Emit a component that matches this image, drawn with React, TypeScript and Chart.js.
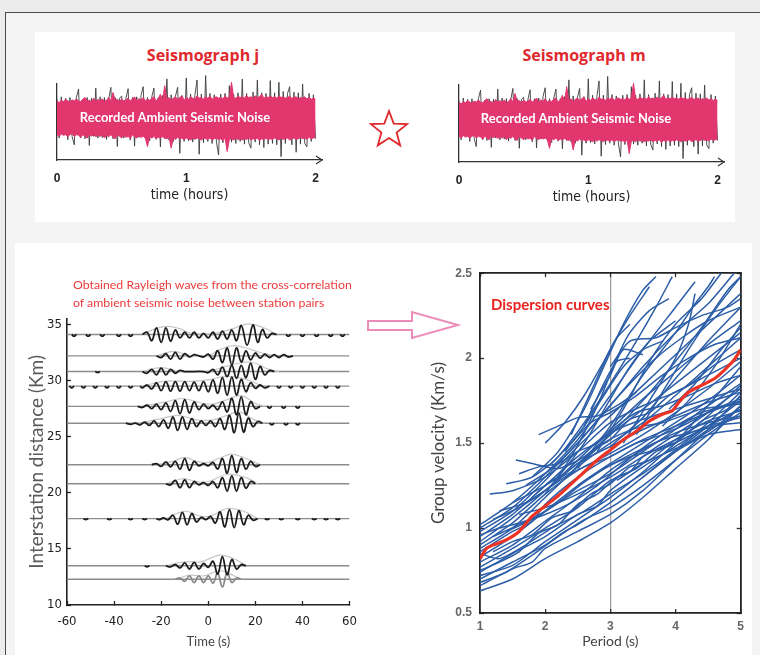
import React, { useEffect, useRef } from 'react';
import { Chart, registerables } from 'chart.js';

Chart.register(...registerables);

// ---------------- Seismograph (top panels) ----------------
const seismoTickValues = [0, 1, 2];
const seismoTickLabels = ['0', '1', '2'];
const noiseDurationHours = 2;

const noiseBlack = [
  0.55, -0.6, 0.62, -0.5, 0.58, -0.65, 0.6, -0.55, -0.8, 0.6,
  0.85, -0.6, 0.55, -0.62, 0.6, -0.82, 0.58, -0.55, 0.88, -0.6,
  0.62, -0.58, 0.6, -0.64, 0.56, 0.9, -0.62, 0.6, -0.85, 0.58,
  0.64, -0.6, 0.58, 0.86, -0.66, 0.6, -0.84, 0.62, -0.58, 0.66,
  0.92, -0.6, 0.6, -0.68, 0.62, 0.88, -0.64, 0.6, -0.86, 0.66,
  -0.62, 1.15, -0.66, 0.68, -0.7, 0.64, 0.9, -1.05, 0.66, -0.7,
  1.18, -0.68, 0.7, -0.72, 0.66, 1.12, -1.08, 0.7, -0.74, 1.25,
  -0.7, 0.72, -0.76, 0.68, -0.72, -1.1, 0.7, -0.74, 0.72, -0.78,
  0.95, -0.72, 0.7, -0.76, 0.74, -0.7, 1.15, -0.78, 0.72, -0.74,
  -0.9, 0.76, -0.72, 1.12, -0.8, 0.74, -0.88, 0.72, -0.78, 1.1,
  -0.76, 0.74, -0.8, 1.05, -1.15, 0.78, -0.76, 0.72, 0.92, -0.8,
  0.76, -1.02, 0.74, -0.78, 1.0, -0.76, -0.86, 0.72, -0.7, 0.68,
  -0.62,
];

const noisePinkUpper = [
  0.5, 0.45, 0.52, 0.48, 0.55, 0.5, 0.47, 0.53, 0.5, 0.56,
  0.5, 0.48, 0.55, 0.6, 0.5, 0.52, 0.47, 0.58, 0.5, 0.54,
  0.5, 0.56, 0.48, 0.52, 0.6, 0.5, 0.75, 0.52, 0.55, 0.48,
  0.56, 0.5, 0.53, 0.58, 0.5, 0.55, 0.62, 0.5, 0.57, 0.52,
  0.6, 0.5, 0.55, 0.52, 0.58, 0.62, 0.5, 0.56, 0.7, 0.52,
  0.95, 0.55, 0.6, 0.52, 0.58, 0.62, 0.55, 0.6, 0.65, 0.52,
  0.6, 0.55, 0.62, 0.58, 0.55, 0.65, 0.58, 0.6, 0.55, 0.62,
  0.58, 0.64, 0.55, 0.6, 0.62, 0.58, 0.6, 0.56, 0.65, 0.58,
  0.62, 1.05, 0.6, 0.58, 0.64, 0.6, 0.62, 0.58, 0.66, 0.6,
  0.62, 0.58, 0.65, 0.6, 0.62, 0.7, 0.58, 0.62, 0.6, 0.64,
  0.6, 0.62, 0.58, 0.65, 0.6, 0.62, 0.58, 0.6, 0.64, 0.58,
  0.6, 0.62, 0.56, 0.6, 0.58, 0.62, 0.56, 0.6, 0.55, 0.58,
  0.55,
];

const noisePinkLower = [
  -0.5, -0.55, -0.48, -0.52, -0.5, -0.56, -0.5, -0.47, -0.55, -0.5,
  -0.52, -0.58, -0.5, -0.55, -0.6, -0.5, -0.54, -0.5, -0.56, -0.52,
  -0.55, -0.5, -0.6, -0.52, -0.56, -0.5, -0.58, -0.62, -0.5, -0.55,
  -0.6, -0.52, -0.58, -0.55, -0.62, -0.5, -0.56, -0.6, -0.54, -0.58,
  -0.55, -0.6, -0.85, -0.56, -0.6, -0.55, -0.62, -0.58, -0.6, -0.56,
  -0.6, -0.62, -0.58, -0.9, -0.6, -0.64, -0.58, -0.62, -0.6, -0.65,
  -0.6, -0.62, -0.66, -0.6, -0.64, -0.6, -0.62, -0.66, -0.6, -0.62,
  -0.64, -0.6, -0.66, -0.62, -0.6, -0.65, -0.62, -0.68, -0.6, -1.0,
  -0.64, -0.62, -0.66, -0.6, -0.64, -0.62, -0.66, -0.62, -0.64, -0.6,
  -0.66, -0.62, -0.64, -0.6, -0.68, -0.62, -0.65, -0.6, -0.66, -0.62,
  -0.64, -0.6, -0.62, -0.66, -0.6, -0.64, -0.62, -0.6, -0.66, -0.62,
  -0.6, -0.64, -0.62, -0.58, -0.62, -0.6, -0.64, -0.58, -0.62, -0.6,
  -0.58,
];

// ---------------- Cross-correlation record section ----------------
const waveXTicks = [-60, -40, -20, 0, 20, 40, 60];
const waveYTicks = [10, 15, 20, 25, 30, 35];
const traceDistances = [34.1, 32.2, 30.8, 29.5, 27.7, 26.2, 22.5, 20.8, 17.7, 13.5, 12.3];

type P = [number, number | null];

const trace1: P[] = [
  [-58, 0], [-57, -0.15], [-56, 0], [-55.5, null], [-52, 0], [-51, -0.15], [-50, 0], [-49.5, null],
  [-46, 0], [-45, -0.15], [-44, 0], [-43.5, null], [-39, 0], [-38, -0.15], [-37, 0], [-36.5, null],
  [-34, 0], [-33, -0.15], [-32, 0], [-31.5, null],
  [-28, 0], [-26, 0.2], [-24, -0.55], [-22, 0.6], [-20, -0.7], [-18, 0.6], [-16, -0.6], [-14, 0.4],
  [-12, -0.3], [-10, 0.2], [-8, -0.3], [-6, 0.2], [-4, -0.3], [-2, 0.1], [0, -0.3], [2, 0.2], [4, -0.4],
  [6, 0.3], [8, -0.4], [10, 0.4], [12, -0.55], [14, 0.8], [16.5, -0.95], [19, 0.85], [21, -0.7],
  [23, 0.45], [25, -0.3], [27, 0.1], [29, 0], [29.5, null],
  [33, 0], [34, -0.15], [35, 0], [35.5, null], [39, 0], [40, -0.15], [41, 0], [41.5, null],
  [45, 0], [46, -0.15], [47, 0], [47.5, null], [51, 0], [52, -0.15], [53, 0], [53.5, null],
  [56, 0], [57, -0.15], [58, 0],
];
const trace2: P[] = [
  [-22, 0], [-20, -0.15], [-18, 0.2], [-16, -0.3], [-14, 0.3], [-12, -0.3], [-10, 0.2], [-8, -0.1],
  [-6, 0.1], [-4, 0], [-2, -0.1], [0, 0.15], [2, -0.3], [4, 0.45], [6, -0.6], [8, 0.7], [10, -0.8],
  [12, 0.7], [14, -0.55], [16, 0.45], [18, -0.35], [20, 0.25], [22, -0.2], [24, 0.15], [26, -0.15],
  [28, 0.1], [30, -0.15], [32, 0.1], [34, -0.1], [36, 0],
];
const trace3: P[] = [
  [-48, 0], [-47, -0.1], [-46, 0], [-45.5, null],
  [-28, 0], [-26, -0.15], [-24, 0.2], [-22, -0.3], [-20, 0.3], [-18, -0.3], [-16, 0.2], [-14, -0.15],
  [-12, 0.1], [-10, 0], [-2, 0], [0, -0.1], [2, 0.2], [4, -0.3], [6, 0.4], [8, -0.45], [10, 0.55],
  [12, -0.6], [14, 0.55], [16, -0.55], [18, 0.75], [20, -0.7], [22, 0.45], [24, -0.3], [26, 0.1], [28, 0],
];
const trace4: P[] = [
  [-59, 0], [-58, -0.15], [-57, 0], [-56.5, null], [-54, 0], [-53, -0.15], [-52, 0], [-51.5, null],
  [-49, 0], [-48, -0.15], [-47, 0], [-46.5, null], [-44, 0], [-43, -0.15], [-42, 0], [-41.5, null],
  [-39, 0], [-38, -0.15], [-37, 0], [-36.5, null], [-34, 0], [-33, -0.15], [-32, 0], [-31.5, null],
  [-29, 0], [-28, -0.15], [-26, 0.1], [-24, -0.25], [-22, 0.3], [-20, -0.4], [-18, 0.4], [-16, -0.45],
  [-14, 0.4], [-12, -0.45], [-10, 0.4], [-8, -0.4], [-6, 0.35], [-4, -0.4], [-2, 0.4], [0, -0.5],
  [2, 0.55], [4, -0.65], [6, 0.75], [8, -0.8], [10, 0.8], [12, -0.8], [14, 0.6], [16, -0.5], [18, 0.3],
  [20, -0.2], [22, 0.1], [24, -0.15], [26, 0], [26.5, null],
  [29, 0], [30, -0.15], [31, 0], [31.5, null], [34, 0], [35, -0.15], [36, 0], [36.5, null],
  [39, 0], [40, -0.15], [41, 0], [41.5, null], [44, 0], [45, -0.15], [46, 0], [46.5, null],
  [49, 0], [50, -0.15], [51, 0], [51.5, null], [54, 0], [55, -0.15], [56, 0],
];
const trace5: P[] = [
  [-30, 0], [-28, -0.1], [-26, 0.1], [-24, -0.2], [-22, 0.2], [-20, -0.3], [-18, 0.3], [-16, -0.45],
  [-14, 0.5], [-12, -0.65], [-10, 0.6], [-8, -0.6], [-6, 0.4], [-4, -0.3], [-2, 0.2], [0, -0.2],
  [2, 0.1], [4, -0.3], [6, 0.4], [8, -0.5], [10, 0.7], [12, -0.75], [14, 0.85], [16, -0.75],
  [18, 0.4], [20, -0.2], [22, 0], [22.5, null],
  [25, 0], [26, -0.15], [27, 0], [27.5, null], [31, 0], [32, -0.15], [33, 0], [33.5, null],
  [37, 0], [38, -0.15], [39, 0],
];
const trace6: P[] = [
  [-35, 0], [-33, -0.1], [-31, 0], [-29, -0.15], [-27, 0.1], [-25, -0.2], [-23, 0.2], [-21, -0.3],
  [-19, 0.3], [-17, -0.45], [-15, 0.55], [-13, -0.65], [-11, 0.55], [-9, -0.55], [-7, 0.4], [-5, -0.3],
  [-3, 0.2], [-1, -0.2], [1, 0.2], [3, -0.3], [5, 0.4], [7, -0.55], [9, 0.7], [11, -0.85], [13, 0.9],
  [15, -0.8], [17, 0.45], [19, -0.3], [21, 0.15], [23, 0], [23.5, null],
  [26, 0], [27, -0.15], [28, 0], [28.5, null], [32, 0], [33, -0.15], [34, 0], [34.5, null],
  [37, 0], [38, -0.15], [39, 0],
];
const trace7: P[] = [
  [-24, 0], [-22, 0.1], [-20, -0.15], [-18, 0.25], [-16, -0.2], [-14, 0.3], [-12, -0.4], [-10, 0.55],
  [-8, -0.5], [-6, 0.3], [-4, -0.1], [-2, 0.1], [0, -0.1], [2, 0.2], [4, -0.4], [6, 0.55], [8, -0.75],
  [10, 0.8], [12, -0.7], [14, 0.55], [16, -0.4], [18, 0.3], [20, -0.15], [22, 0],
];
const trace8: P[] = [
  [-18, 0], [-16, -0.1], [-14, 0.3], [-12, -0.35], [-10, 0.35], [-8, -0.35], [-6, 0.2], [-4, -0.1],
  [-2, 0.1], [0, -0.15], [2, 0.2], [4, -0.35], [6, 0.55], [8, -0.65], [10, 0.7], [12, -0.65],
  [14, 0.55], [16, -0.4], [18, 0.2], [20, 0],
];
const trace9: P[] = [
  [-53, 0], [-52, -0.1], [-51, 0], [-50.5, null], [-43, 0], [-42, -0.1], [-41, 0], [-40.5, null],
  [-34, 0], [-33, -0.1], [-32, 0], [-31.5, null], [-28, 0], [-27, -0.1], [-26, 0], [-25.5, null],
  [-22, 0], [-21, -0.1], [-19, 0.05], [-17, -0.1], [-15, 0.3], [-13, -0.5], [-11, 0.55], [-9, -0.55],
  [-7, 0.45], [-5, -0.3], [-3, 0.1], [-1, -0.1], [1, 0.2], [3, -0.4], [5, 0.6], [7, -0.75], [9, 0.8],
  [11, -0.8], [13, 0.7], [15, -0.55], [17, 0.3], [19, -0.15], [21, 0], [21.5, null],
  [24, 0], [25, -0.1], [26, 0], [26.5, null], [30, 0], [31, -0.1], [32, 0], [32.5, null],
  [37, 0], [38, -0.1], [39, 0], [39.5, null], [44, 0], [45, -0.1], [46, 0], [46.5, null],
  [49, 0], [50, -0.1], [51, 0], [51.5, null], [54, 0], [55, -0.1], [56, 0],
];
const trace10: P[] = [
  [-27, 0], [-26, -0.1], [-25, 0], [-24.5, null],
  [-18, 0], [-16, -0.1], [-14, 0.1], [-12, -0.2], [-10, 0.25], [-8, -0.3], [-6, 0.3], [-4, -0.3],
  [-2, 0.2], [0, -0.15], [2, 0.4], [4, -0.75], [6, 0.8], [8, -0.8], [10, 0.55], [12, -0.3], [14, 0.1], [16, 0],
];
const trace11: P[] = [
  [-14, 0], [-12, 0.1], [-10, -0.2], [-8, 0.3], [-6, -0.3], [-4, 0.3], [-2, -0.3], [0, 0.3],
  [2, -0.35], [4, 0.55], [6, -0.7], [8, 0.6], [10, -0.3], [12, 0.1], [14, 0],
];
const traceWiggles = [trace1, trace2, trace3, trace4, trace5, trace6, trace7, trace8, trace9, trace10, trace11];

const env1: P[] = [[-28, 0], [-22, 0.55], [-17, 0.72], [-12, 0.5], [-7, 0.1], [3, 0.1], [10, 0.5], [17, 0.95], [23, 0.65], [29, 0]];
const env2: P[] = [[-22, 0], [-15, 0.4], [-8, 0.05], [0, 0.05], [5, 0.55], [10, 0.9], [16, 0.7], [22, 0.3], [28, 0]];
const env3: P[] = [[-28, 0], [-20, 0.35], [-12, 0], [0, 0.05], [10, 0.6], [18, 0.85], [25, 0.25], [30, 0]];
const env4: P[] = [[-28, 0], [-18, 0.45], [-8, 0.42], [0, 0.55], [8, 0.9], [16, 0.6], [23, 0]];
const env5: P[] = [[-28, 0], [-18, 0.4], [-11, 0.7], [-3, 0.3], [2, 0.2], [8, 0.6], [14, 0.95], [20, 0.25], [24, 0]];
const env6: P[] = [[-30, 0], [-20, 0.4], [-13, 0.7], [-5, 0.3], [2, 0.3], [8, 0.7], [13, 1.0], [20, 0.25], [24, 0]];
const env7: P[] = [[-22, 0], [-15, 0.3], [-10, 0.65], [-5, 0.3], [0, 0.2], [5, 0.6], [10, 0.95], [16, 0.55], [22, 0]];
const env8: P[] = [[-18, 0], [-11, 0.45], [-5, 0.2], [0, 0.2], [8, 0.85], [16, 0.55], [21, 0]];
const env9: P[] = [[-18, 0], [-10, 0.65], [-3, 0.2], [2, 0.3], [8, 0.9], [15, 0.65], [21, 0]];
const env10: P[] = [[-18, 0], [-10, 0.35], [-3, 0.35], [5, 0.95], [12, 0.5], [16, 0]];
const env11: P[] = [[-14, 0], [-8, 0.35], [-2, 0.3], [5, 0.75], [11, 0.3], [14, 0]];
const traceEnvelopes = [env1, env2, env3, env4, env5, env6, env7, env8, env9, env10, env11];

// ---------------- Dispersion curves ----------------
const dispXTicks = [1, 2, 3, 4, 5];
const dispYTicks = [0.5, 1, 1.5, 2, 2.5];
const dispYLabels = ['0.5', '1', '1.5', '2', '2.5'];

type Q = [number, number];
const c1: Q[] = [[1, 0.63], [1.5, 0.7], [2, 0.82], [2.5, 0.92], [3, 1.03], [3.5, 1.18], [4, 1.35], [4.5, 1.52], [5, 1.72]];
const c2: Q[] = [[1, 0.66], [1.5, 0.76], [1.8, 0.8], [2, 0.88], [2.5, 0.98], [3, 1.08], [3.5, 1.22], [4, 1.4], [4.5, 1.58], [5, 1.78]];
const c3: Q[] = [[1, 0.7], [1.5, 0.8], [2, 0.9], [2.3, 0.98], [2.5, 1.02], [3, 1.15], [3.5, 1.3], [4, 1.45], [4.5, 1.6], [5, 1.75]];
const c4: Q[] = [[1, 0.74], [1.5, 0.85], [2, 0.95], [2.5, 1.08], [2.8, 1.13], [3, 1.22], [3.5, 1.36], [4, 1.48], [4.5, 1.6], [5, 1.7]];
const c5: Q[] = [[1, 0.77], [1.5, 0.88], [2, 1.0], [2.5, 1.12], [3, 1.28], [3.3, 1.33], [3.5, 1.42], [4, 1.55], [4.5, 1.68], [5, 1.82]];
const c6: Q[] = [[1, 0.8], [1.5, 0.9], [2, 1.04], [2.5, 1.18], [3, 1.34], [3.5, 1.46], [4, 1.56], [4.5, 1.62], [5, 1.66]];
const c7: Q[] = [[1, 0.83], [1.5, 0.95], [2, 1.1], [2.5, 1.25], [3, 1.38], [3.5, 1.5], [4, 1.62], [4.5, 1.75], [5, 1.9]];
const c8: Q[] = [[1, 0.86], [1.5, 0.98], [1.8, 1.04], [2, 1.14], [2.5, 1.3], [3, 1.42], [3.5, 1.52], [4, 1.6], [4.5, 1.68], [5, 1.75]];
const c9: Q[] = [[1, 0.88], [1.5, 1.0], [2, 1.18], [2.5, 1.36], [3, 1.5], [3.5, 1.62], [4, 1.78], [4.5, 1.95], [5, 2.12]];
const c10: Q[] = [[1, 0.9], [1.5, 1.03], [2, 1.2], [2.5, 1.34], [3, 1.44], [3.5, 1.55], [4, 1.68], [4.5, 1.82], [5, 1.98]];
const c11: Q[] = [[1, 0.92], [1.5, 1.06], [2, 1.22], [2.5, 1.4], [3, 1.58], [3.5, 1.76], [4, 1.92], [4.5, 2.08], [5, 2.22]];
const c12: Q[] = [[1, 0.95], [1.5, 1.08], [2, 1.25], [2.5, 1.42], [3, 1.56], [3.5, 1.64], [4, 1.7], [4.5, 1.76], [5, 1.82]];
const c13: Q[] = [[1, 0.98], [1.5, 1.1], [2, 1.28], [2.5, 1.48], [3, 1.66], [3.5, 1.84], [4, 2.02], [4.5, 2.2], [5, 2.38]];
const c14: Q[] = [[1, 1.0], [1.5, 1.12], [2, 1.3], [2.5, 1.5], [3, 1.72], [3.5, 1.95], [4, 2.15], [4.5, 2.32], [4.9, 2.5]];
const c15: Q[] = [[1, 1.02], [1.5, 1.15], [2, 1.32], [2.5, 1.52], [3, 1.78], [3.5, 2.05], [4, 2.3], [4.3, 2.45]];
const c16: Q[] = [[1.15, 1.2], [1.5, 1.22], [2, 1.3], [2.5, 1.45], [3, 1.62], [3.5, 1.72], [4, 1.8], [4.5, 1.9], [5, 2.0]];
const c17: Q[] = [[1.55, 1.4], [1.8, 1.38], [2.2, 1.35], [2.6, 1.42], [3, 1.55], [3.5, 1.7], [4, 1.85], [4.5, 2.0], [5, 2.15]];
const c18: Q[] = [[1.4, 1.26], [1.8, 1.3], [2.2, 1.42], [2.6, 1.62], [3, 1.85], [3.4, 2.1], [3.7, 2.3], [3.95, 2.48]];
const c19: Q[] = [[1.8, 1.3], [2.2, 1.45], [2.6, 1.7], [2.9, 1.95], [3.2, 2.2], [3.5, 2.4], [3.7, 2.48]];
const c20: Q[] = [[2, 1.2], [2.4, 1.42], [2.8, 1.72], [3.1, 2.0], [3.3, 2.15], [3.6, 2.28], [3.9, 2.35]];
const c21: Q[] = [[2.2, 1.3], [2.6, 1.5], [3, 1.76], [3.3, 1.95], [3.6, 2.1], [4.0, 2.22]];
const c22: Q[] = [[2.4, 1.55], [2.7, 1.8], [3.0, 2.05], [3.3, 2.25], [3.6, 2.42]];
const c23: Q[] = [[2.5, 1.35], [3, 1.6], [3.5, 1.9], [4, 2.15], [4.3, 2.32], [4.5, 2.42], [4.6, 2.48]];
const c24: Q[] = [[2.8, 1.45], [3.2, 1.7], [3.6, 1.98], [4, 2.2], [4.4, 2.35], [4.7, 2.5]];
const c25: Q[] = [[3, 1.48], [3.5, 1.65], [4, 1.88], [4.5, 2.1], [5, 2.3]];
const c26: Q[] = [[3.2, 1.5], [3.6, 1.75], [4.0, 2.0], [4.2, 2.2], [4.3, 2.38]];
const c27: Q[] = [[3.4, 1.55], [3.8, 1.8], [4.2, 2.05], [4.6, 2.28], [5, 2.48]];
const c28: Q[] = [[3.8, 1.6], [4.2, 1.75], [4.6, 1.95], [5, 2.2]];
const c29: Q[] = [[4, 1.5], [4.5, 1.72], [5, 1.95]];
const c30: Q[] = [[2.6, 1.6], [2.9, 1.85], [3.1, 1.98], [3.3, 2.0]];
const c31: Q[] = [[2.7, 1.7], [3.0, 1.9], [3.2, 2.05], [3.5, 2.02]];
const c32: Q[] = [[3.0, 1.95], [3.3, 2.1], [3.7, 2.12], [4.0, 2.18], [4.4, 2.25], [4.8, 2.3], [5, 2.35]];
const c33: Q[] = [[1.6, 1.08], [2, 1.12], [2.5, 1.2], [3, 1.3], [3.5, 1.42], [4, 1.52], [4.5, 1.6], [5, 1.65]];
const c34: Q[] = [[1.2, 0.95], [1.6, 1.02], [2, 1.1], [2.5, 1.22], [3, 1.32], [3.5, 1.45], [4, 1.58], [4.5, 1.72], [5, 1.85]];
const c35: Q[] = [[1, 0.85], [1.3, 0.82], [1.7, 0.9], [2.1, 1.0], [2.6, 1.1], [3, 1.2], [3.5, 1.32], [4, 1.46], [4.5, 1.62], [5, 1.8]];
const c36: Q[] = [[3.9, 1.7], [4.3, 1.85], [4.7, 2.05], [5, 2.18]];
const c37: Q[] = [[4.2, 1.5], [4.6, 1.6], [5, 1.62]];
const c38: Q[] = [[3.5, 1.3], [4, 1.45], [4.5, 1.55], [5, 1.58]];
const c39: Q[] = [[1, 0.68], [1.4, 0.74], [1.8, 0.84], [2.2, 0.95], [2.6, 1.05], [3, 1.12], [3.5, 1.25], [4, 1.4], [4.5, 1.55], [5, 1.68]];
const c40: Q[] = [[1, 0.72], [1.5, 0.78], [2, 0.92], [2.5, 1.05], [3, 1.18], [3.5, 1.33], [4, 1.5], [4.5, 1.66], [5, 1.84]];
const c41: Q[] = [[1.3, 1.1], [1.7, 1.15], [2.1, 1.25], [2.5, 1.38], [3, 1.48], [3.5, 1.58], [4, 1.66], [4.5, 1.74], [5, 1.8]];
const c42: Q[] = [[1.7, 1.25], [2.1, 1.35], [2.5, 1.5], [2.9, 1.68], [3.3, 1.85], [3.7, 2.0], [4.1, 2.12], [4.5, 2.22], [5, 2.3]];
const c43: Q[] = [[2.0, 1.5], [2.3, 1.62], [2.6, 1.78], [2.9, 1.98], [3.1, 2.12], [3.3, 2.2]];
const c44: Q[] = [[1.5, 1.15], [2, 1.25], [2.5, 1.38], [3, 1.55], [3.5, 1.75], [4, 1.98], [4.4, 2.18], [4.8, 2.4], [5, 2.48]];
const c45: Q[] = [[1.2, 1.05], [1.6, 1.12], [2.0, 1.22], [2.3, 1.3], [2.6, 1.36], [3, 1.42], [3.4, 1.5], [3.8, 1.55], [4.2, 1.62], [4.6, 1.7], [5, 1.76]];
const c46: Q[] = [[1.4, 0.98], [1.8, 1.05], [2.2, 1.15], [2.6, 1.27], [3, 1.37], [3.4, 1.45], [3.8, 1.52], [4.2, 1.56], [4.6, 1.6], [5, 1.66]];
const c47: Q[] = [[1.6, 1.32], [1.9, 1.36], [2.2, 1.38], [2.5, 1.45], [2.8, 1.5], [3.1, 1.6], [3.4, 1.68], [3.8, 1.72], [4.2, 1.78], [4.6, 1.85], [5, 1.9]];
const c48: Q[] = [[2.1, 1.38], [2.4, 1.5], [2.7, 1.62], [3, 1.68], [3.4, 1.78], [3.8, 1.9], [4.2, 2.0], [4.6, 2.08], [5, 2.12]];
const c49: Q[] = [[1.9, 1.55], [2.2, 1.6], [2.5, 1.65], [2.8, 1.66], [3.1, 1.72], [3.4, 1.8]];
const c50: Q[] = [[2.3, 1.45], [2.6, 1.6], [2.9, 1.78], [3.2, 1.95], [3.5, 2.05], [3.8, 2.1]];
const c51: Q[] = [[1, 0.96], [1.3, 1.0], [1.6, 1.03], [2, 1.08], [2.4, 1.15], [2.8, 1.25], [3.2, 1.38], [3.6, 1.5], [4, 1.6], [4.4, 1.68], [4.8, 1.72], [5, 1.74]];
const c52: Q[] = [[2.5, 1.25], [2.9, 1.35], [3.3, 1.42], [3.7, 1.46], [4.1, 1.52], [4.5, 1.6], [5, 1.7]];
const c53: Q[] = [[3.1, 1.28], [3.5, 1.38], [3.9, 1.45], [4.3, 1.52], [4.7, 1.62], [5, 1.72]];
const c54: Q[] = [[1, 0.75], [1.3, 0.8], [1.6, 0.86], [1.9, 0.97], [2.2, 1.02], [2.5, 1.14], [2.8, 1.2], [3.1, 1.3], [3.4, 1.35], [3.7, 1.45], [4, 1.5], [4.4, 1.63], [4.8, 1.7], [5, 1.78]];
const c55: Q[] = [[1.8, 1.18], [2.1, 1.28], [2.4, 1.33], [2.7, 1.45], [3, 1.52], [3.3, 1.64], [3.6, 1.68], [3.9, 1.78], [4.2, 1.84], [4.6, 1.96], [5, 2.05]];
const c56: Q[] = [[1.2, 0.86], [1.5, 0.92], [1.8, 0.96], [2.1, 1.06], [2.4, 1.1], [2.7, 1.2], [3, 1.26], [3.3, 1.36], [3.6, 1.4], [4, 1.52], [4.5, 1.63], [5, 1.69]];
const c57: Q[] = [[2.6, 1.4], [2.9, 1.5], [3.2, 1.56], [3.5, 1.6], [3.8, 1.62], [4.1, 1.66], [4.4, 1.7], [4.8, 1.72], [5, 1.73]];
const blueCurves = [c1, c2, c3, c4, c5, c6, c7, c8, c9, c10, c11, c12, c13, c14, c15, c16, c17, c18, c19, c20, c21, c22,
  c23, c24, c25, c26, c27, c28, c29, c30, c31, c32, c33, c34, c35, c36, c37, c38, c39, c40, c41, c42, c43, c44,
  c45, c46, c47, c48, c49, c50, c51, c52, c53, c54, c55, c56, c57];

const averageCurve: Q[] = [
  [1, 0.82], [1.1, 0.88], [1.2, 0.9], [1.4, 0.93], [1.6, 0.98], [1.8, 1.07], [2.0, 1.13], [2.2, 1.19],
  [2.4, 1.26], [2.6, 1.33], [2.8, 1.4], [3.0, 1.46], [3.2, 1.52], [3.4, 1.57], [3.6, 1.63], [3.8, 1.67],
  [3.95, 1.69], [4.05, 1.74], [4.2, 1.8], [4.4, 1.84], [4.6, 1.88], [4.75, 1.93], [4.9, 1.99], [5, 2.05],
];

// ---------------- Styles ----------------
const PINK = '#e2366f';
const NARROW = "'Liberation Sans Narrow', 'Arial Narrow', 'DejaVu Sans Condensed', sans-serif";
const LATO = "Lato, 'Open Sans', sans-serif";

const arrowPlugin = {
  id: 'axisArrow',
  afterDraw(chart: any) {
    const { ctx, chartArea } = chart;
    ctx.save();
    ctx.strokeStyle = '#333';
    ctx.lineWidth = 1.2;
    ctx.beginPath();
    ctx.moveTo(chartArea.right - 6, chartArea.bottom - 4);
    ctx.lineTo(chartArea.right, chartArea.bottom);
    ctx.lineTo(chartArea.right - 6, chartArea.bottom + 4);
    ctx.stroke();
    ctx.restore();
  },
};

function seismoConfig(): any {
  const times = noiseBlack.map((_, i) => (i * noiseDurationHours) / (noiseBlack.length - 1));
  const pts = (arr: number[]) => arr.map((v, i) => ({ x: times[i], y: v }));
  return {
    type: 'line',
    data: {
      datasets: [
        { data: pts(noisePinkUpper), borderColor: PINK, borderWidth: 1, pointRadius: 0, fill: false, clip: false },
        { data: pts(noisePinkLower), borderColor: PINK, borderWidth: 1, pointRadius: 0, fill: '-1', backgroundColor: PINK, clip: false },
        { data: pts(noiseBlack), borderColor: '#3c3c3c', borderWidth: 0.9, pointRadius: 0, fill: false, clip: false },
      ],
    },
    options: {
      responsive: false,
      animation: false,
      devicePixelRatio: 1,
      layout: { padding: { top: 10, right: 9, left: 0, bottom: 0 } },
      plugins: { legend: { display: false }, tooltip: { enabled: false } },
      scales: {
        x: {
          type: 'linear', min: 0, max: 2.05,
          afterBuildTicks: (s: any) => { s.ticks = seismoTickValues.map((v) => ({ value: v })); },
          afterFit: (s: any) => { s.height = 45; },
          grid: { display: false, drawTicks: false },
          border: { color: '#333', width: 1.3 },
          ticks: {
            padding: 11, color: '#222', maxRotation: 0,
            font: { family: "'Liberation Sans', Arial, sans-serif", size: 12, weight: 'bold' },
            callback: (v: number) => seismoTickLabels[seismoTickValues.indexOf(v)] ?? '',
          },
          title: {
            display: true, text: 'time (hours)', color: '#222', padding: { top: 0, bottom: 1 },
            font: { family: NARROW, size: 14 },
          },
        },
        y: {
          min: -1.25, max: 1.0,
          afterFit: (s: any) => { s.width = 17; },
          grid: { display: false, drawTicks: false },
          ticks: { display: false },
          border: { color: '#333', width: 1.3 },
        },
      },
    },
    plugins: [arrowPlugin],
  };
}

function waveConfig(): any {
  const datasets: any[] = [];
  traceWiggles.forEach((w, i) => {
    const d = traceDistances[i];
    datasets.push({
      data: [{ x: -60, y: d }, { x: 60, y: d }],
      borderColor: '#8c8c8c', borderWidth: 1.4, pointRadius: 0, order: 3,
    });
    datasets.push({
      data: traceEnvelopes[i].map(([t, a]) => ({ x: t, y: d + (a as number) })),
      borderColor: '#c6c6c6', borderWidth: 1.2, pointRadius: 0, tension: 0.4, order: 2,
    });
    datasets.push({
      data: w.map(([t, a]) => ({ x: t, y: a === null ? null : d + a })),
      borderColor: i === 10 ? '#8a8a8a' : '#1c1c1c', borderWidth: 1.8, pointRadius: 0, tension: 0.4,
      spanGaps: false, order: 1,
    });
  });
  return {
    type: 'line',
    data: { datasets },
    options: {
      responsive: false,
      animation: false,
      devicePixelRatio: 1,
      layout: { padding: { top: 7, right: 0, left: 0, bottom: 0 } },
      plugins: { legend: { display: false }, tooltip: { enabled: false } },
      scales: {
        x: {
          type: 'linear', min: -60, max: 60,
          afterBuildTicks: (s: any) => { s.ticks = waveXTicks.map((v) => ({ value: v })); },
          afterFit: (s: any) => { s.height = 50; },
          grid: { drawOnChartArea: false, drawTicks: true, tickLength: -4, tickColor: '#222', tickWidth: 1.3 },
          border: { color: '#222', width: 1.6 },
          ticks: {
            padding: 13, color: '#222', maxRotation: 0, autoSkip: false,
            font: { family: NARROW, size: 13 },
          },
          title: {
            display: true, text: 'Time (s)', color: '#444', padding: { top: 0, bottom: 5 },
            font: { family: LATO, size: 13 },
          },
        },
        y: {
          type: 'linear', min: 10, max: 35.5,
          afterBuildTicks: (s: any) => { s.ticks = waveYTicks.map((v) => ({ value: v })); },
          afterFit: (s: any) => { s.width = 47; },
          grid: { drawOnChartArea: false, drawTicks: true, tickLength: -4, tickColor: '#222', tickWidth: 1.3 },
          border: { color: '#222', width: 1.6 },
          ticks: { padding: 9, color: '#222', font: { family: NARROW, size: 13 } },
          title: {
            display: true, text: 'Interstation distance (Km)', color: '#5a5a5a', padding: { top: 5, bottom: 0 },
            font: { family: LATO, size: 19 },
          },
        },
      },
    },
  };
}

function dispersionConfig(): any {
  const toPts = (c: Q[]) => c.map(([p, v]) => ({ x: p, y: v }));
  const datasets: any[] = blueCurves.map((c) => ({
    data: toPts(c), borderColor: '#2c5ea8', borderWidth: 1.5, pointRadius: 0, tension: 0.25, order: 2,
  }));
  datasets.push({
    data: toPts(averageCurve), borderColor: '#ec3426', borderWidth: 3.2, pointRadius: 0, tension: 0.2, order: 1,
  });
  const innerTicks = { drawTicks: true, tickLength: -4, tickColor: '#333', tickWidth: 1.3 };
  return {
    type: 'line',
    data: { datasets },
    options: {
      responsive: false,
      animation: false,
      devicePixelRatio: 1,
      layout: { padding: { top: 11, right: 0, left: 0, bottom: 0 } },
      plugins: { legend: { display: false }, tooltip: { enabled: false } },
      scales: {
        x: {
          type: 'linear', min: 1, max: 5, position: 'bottom',
          afterBuildTicks: (s: any) => { s.ticks = dispXTicks.map((v) => ({ value: v })); },
          afterFit: (s: any) => { s.height = 42; },
          grid: {
            ...innerTicks,
            drawOnChartArea: true,
            lineWidth: 1.3,
            color: (ctx: any) => (ctx.tick && ctx.tick.value === 3 ? '#a0a0a0' : 'rgba(0,0,0,0)'),
          },
          border: { color: '#222', width: 1.8 },
          ticks: { padding: 10, color: '#666', font: { family: "'Liberation Sans', Arial, sans-serif", size: 12, weight: 'bold' } },
          title: {
            display: true, text: 'Period (s)', color: '#444', padding: { top: 0, bottom: 5 },
            font: { family: LATO, size: 14 },
          },
        },
        x2: {
          type: 'linear', min: 1, max: 5, position: 'top',
          afterBuildTicks: (s: any) => { s.ticks = dispXTicks.map((v) => ({ value: v })); },
          afterFit: (s: any) => { s.height = 0; },
          grid: { ...innerTicks, drawOnChartArea: false },
          border: { color: '#222', width: 1.8 },
          ticks: { display: false },
        },
        y: {
          type: 'linear', min: 0.5, max: 2.5,
          afterBuildTicks: (s: any) => { s.ticks = dispYTicks.map((v) => ({ value: v })); },
          afterFit: (s: any) => { s.width = 55; },
          grid: { ...innerTicks, drawOnChartArea: false },
          border: { color: '#222', width: 1.8 },
          ticks: {
            padding: 12, color: '#666',
            font: { family: "'Liberation Sans', Arial, sans-serif", size: 12, weight: 'bold' },
            callback: (v: number) => dispYLabels[dispYTicks.indexOf(v)] ?? '',
          },
          title: {
            display: true, text: 'Group velocity (Km/s)', color: '#444', padding: { top: 3, bottom: 0 },
            font: { family: LATO, size: 17 },
          },
        },
        y2: {
          type: 'linear', min: 0.5, max: 2.5, position: 'right',
          afterBuildTicks: (s: any) => { s.ticks = dispYTicks.map((v) => ({ value: v })); },
          afterFit: (s: any) => { s.width = 10; },
          grid: { ...innerTicks, drawOnChartArea: false },
          border: { color: '#222', width: 1.8 },
          ticks: { display: false },
        },
      },
    },
  };
}

function ChartCanvas({ make, left, top, width, height }: { make: () => any; left: number; top: number; width: number; height: number }) {
  const ref = useRef<HTMLCanvasElement | null>(null);
  useEffect(() => {
    if (!ref.current) return;
    const chart = new Chart(ref.current, make());
    return () => chart.destroy();
  }, []);
  return (
    <canvas
      ref={ref}
      width={width}
      height={height}
      style={{ position: 'absolute', left, top, width, height }}
    />
  );
}

function starPoints(cx: number, cy: number, R: number, r: number) {
  const pts: string[] = [];
  for (let i = 0; i < 10; i++) {
    const rad = i % 2 === 0 ? R : r;
    const ang = -Math.PI / 2 + (i * Math.PI) / 5;
    pts.push(`${cx + rad * Math.cos(ang)},${cy + rad * Math.sin(ang)}`);
  }
  return pts.join(' ');
}

const abs = (style: React.CSSProperties): React.CSSProperties => ({ position: 'absolute', ...style });

export default function App() {
  const titleStyle: React.CSSProperties = {
    color: '#e0282d', fontFamily: "'Open Sans', sans-serif", fontWeight: 700, fontSize: 16,
    whiteSpace: 'nowrap', transform: 'translate(-50%, -50%)', lineHeight: 1,
  };
  const noiseLabel: React.CSSProperties = {
    color: '#ffffff', fontFamily: LATO, fontWeight: 700, fontSize: 13,
    whiteSpace: 'nowrap', transform: 'translate(-50%, -50%)', lineHeight: 1,
  };
  return (
    <div style={{ position: 'fixed', left: 0, top: 0, width: 760, height: 655, background: '#ececec', overflow: 'hidden' }}>
      <div style={abs({ left: 5, top: 12, width: 760, height: 660, background: '#f4f4f4', borderLeft: '1px solid #4a4a4a', borderTop: '1px solid #4a4a4a' })} />
      <div style={abs({ left: 35, top: 32, width: 700, height: 190, background: '#ffffff' })} />
      <div style={abs({ left: 15, top: 243, width: 737, height: 420, background: '#ffffff' })} />

      <ChartCanvas make={seismoConfig} left={40} top={74} width={291} height={131} />
      <ChartCanvas make={seismoConfig} left={442} top={75} width={291} height={132} />
      <ChartCanvas make={waveConfig} left={20} top={302} width={350} height={353} />
      <ChartCanvas make={dispersionConfig} left={425} top={254} width={329} height={401} />

      <div style={abs({ left: 203, top: 55, ...titleStyle })}>Seismograph j</div>
      <div style={abs({ left: 584, top: 55, ...titleStyle })}>Seismograph m</div>
      <div style={abs({ left: 175, top: 117, ...noiseLabel })}>Recorded Ambient Seismic Noise</div>
      <div style={abs({ left: 576, top: 118, ...noiseLabel })}>Recorded Ambient Seismic Noise</div>

      <svg width={760} height={655} style={abs({ left: 0, top: 0, pointerEvents: 'none' })}>
        <polygon points={starPoints(389, 130, 19, 8)} fill="none" stroke="#e0282d" strokeWidth={1.8} strokeLinejoin="miter" />
        <polygon
          points="368,321 412,321 412,312 458,325 412,338 412,330 368,330"
          fill="#ffffff" stroke="#ec8cb8" strokeWidth={2}
        />
      </svg>

      <div style={abs({ left: 73, top: 276, color: '#ee3b3b', fontFamily: LATO, fontSize: 12.3, lineHeight: '18px', whiteSpace: 'nowrap' })}>
        Obtained Rayleigh waves from the cross-correlation
        <br />
        of ambient seismic noise between station pairs
      </div>
      <div style={abs({ left: 491, top: 297, color: '#e8231f', fontFamily: LATO, fontWeight: 700, fontSize: 15, whiteSpace: 'nowrap', lineHeight: 1 })}>
        Dispersion curves
      </div>
    </div>
  );
}
